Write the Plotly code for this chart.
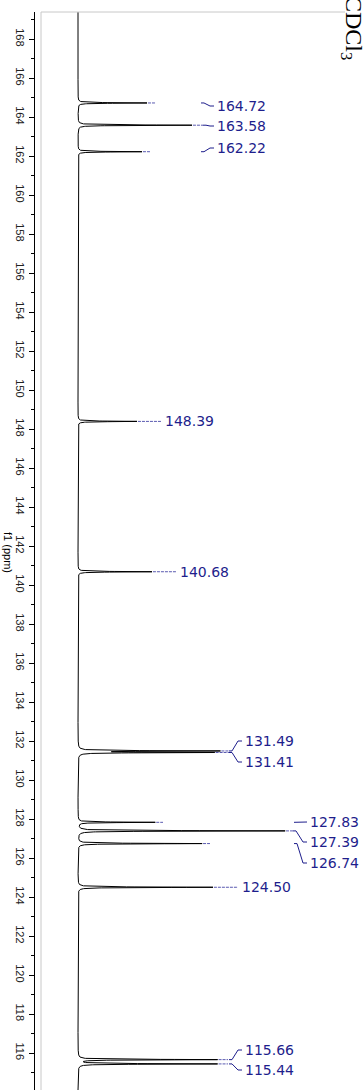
import numpy as np
import plotly.graph_objects as go

# ---- data ----
peak_ppm = [164.72, 163.58, 162.22, 148.39, 140.68, 131.49, 131.41,
            127.83, 127.39, 126.74, 124.50, 115.66, 115.44]
peak_height = [69, 114, 64, 59, 74, 138, 132, 77, 207, 124, 135, 139, 139]
peak_labels = ["164.72", "163.58", "162.22", "148.39", "140.68", "131.49", "131.41",
               "127.83", "127.39", "126.74", "124.50", "115.66", "115.44"]
major_ticks = list(range(116, 170, 2))
tick_text = [str(v) for v in major_ticks]

# ---- layout helpers (positions, not data) ----
W, H = 364, 1090
ML, MT = 35, 12
BASE_PX = 78                     # pixel column of the spectrum baseline
X_RANGE = [ML - BASE_PX, W - BASE_PX]
PX_PER_PPM = 19.5
Y_TOP = 168 + (39 - MT) / PX_PER_PPM
Y_RANGE = [Y_TOP - (H - MT) / PX_PER_PPM, Y_TOP]

def ppm_at(py):
    return 168 - (py - 39) / PX_PER_PPM

def xd(px):
    return px - BASE_PX

label_left_px = [215, 215, 215, 163, 178, 243, 243, 308, 308, 308, 240, 243, 243]
label_y_px = [106, 126, 148, 420, 571, 741, 762, 822, 842, 863, 885, 1050, 1070]
dash_end_px = [156, 203, 150, 161, 176, 229, 229, 163, 293, 210, 238, 228, 228]
kink_px = [201, 203, 201, None, None, 229, 229, 294, 293, 294, None, 229, 229]

LABEL_COLOR = "#1e1e8c"
DASH_COLOR = "#5a5ab0"

# spectrum from the peak list (Lorentzian line shape)
gamma = 0.015
ppm = np.arange(Y_RANGE[0], Y_RANGE[1], 0.0025)
inten = np.zeros_like(ppm)
for p, h in zip(peak_ppm, peak_height):
    inten += h / (1 + ((ppm - p) / gamma) ** 2)

fig = go.Figure()
fig.add_trace(go.Scatter(x=inten, y=ppm, mode="lines",
                         line=dict(color="black", width=1), hoverinfo="skip",
                         showlegend=False))

# connectors and labels
for i, p in enumerate(peak_ppm):
    tip = float(np.interp(p, ppm, inten))
    fig.add_trace(go.Scatter(x=[tip + 1, xd(dash_end_px[i])], y=[p, p], mode="lines",
                             line=dict(color=DASH_COLOR, width=1, dash="3px,1px"),
                             hoverinfo="skip", showlegend=False))
    ly = ppm_at(label_y_px[i])
    lx = label_left_px[i]
    if kink_px[i] is None:
        fig.add_trace(go.Scatter(x=[xd(dash_end_px[i]), xd(lx - 2)], y=[p, p], mode="lines",
                                 line=dict(color=DASH_COLOR, width=1, dash="3px,1px"),
                                 hoverinfo="skip", showlegend=False))
        ly = p
    else:
        fig.add_trace(go.Scatter(x=[xd(kink_px[i]), xd(kink_px[i] + 3), xd(lx - 5), xd(lx - 1)],
                                 y=[p, p, ly, ly], mode="lines",
                                 line=dict(color=LABEL_COLOR, width=1),
                                 hoverinfo="skip", showlegend=False))
    fig.add_annotation(x=xd(lx), y=ly, text=peak_labels[i], showarrow=False,
                       xanchor="left", yanchor="middle",
                       font=dict(family="DejaVu Sans", size=14, color=LABEL_COLOR))

pw = W - ML
ph = H - MT
def paper_x(px):
    return (px - ML) / pw
def paper_y(py):
    return (H - py) / ph

# axis title (rotated clockwise)
fig.add_annotation(xref="paper", yref="paper", x=paper_x(8), y=paper_y(552),
                   text="f1 (ppm)", textangle=90, showarrow=False,
                   xanchor="center", yanchor="middle",
                   font=dict(family="Liberation Sans", size=11, color="black"))
# partial title at top right
fig.add_annotation(xref="paper", yref="paper", x=paper_x(352), y=paper_y(62),
                   text="CDCl<sub>3</sub>", textangle=90, showarrow=False,
                   xanchor="center", yanchor="bottom",
                   font=dict(family="Liberation Serif", size=24, color="black"))

# frame lines
fig.add_shape(type="line", xref="paper", yref="paper",
              x0=paper_x(41), x1=paper_x(41), y0=0, y1=1,
              line=dict(color="#c8c8c8", width=1))
fig.add_shape(type="line", xref="paper", yref="paper",
              x0=paper_x(41), x1=paper_x(345), y0=1, y1=1,
              line=dict(color="#c8c8c8", width=1))

fig.update_layout(
    width=W, height=H,
    margin=dict(l=ML, r=0, t=MT, b=0, autoexpand=False),
    paper_bgcolor="white", plot_bgcolor="white",
    xaxis=dict(visible=False, range=X_RANGE, fixedrange=True),
    yaxis=dict(range=Y_RANGE, tickmode="array", tickvals=major_ticks, ticktext=tick_text,
               tickangle=90, ticks="outside", ticklen=5, tickcolor="black", tickwidth=1,
               showline=True, linecolor="black", linewidth=1, showgrid=False,
               zeroline=False, automargin=False, fixedrange=True,
               tickfont=dict(family="Liberation Sans", size=11, color="#222222"),
               minor=dict(tickmode="linear", tick0=1, dtick=2, ticks="outside",
                          ticklen=3, tickcolor="black", showgrid=False)),
    showlegend=False,
    hovermode=False,
)

fig.write_html("out.html",
               config={"displayModeBar": False, "staticPlot": True},
               post_script="document.body.style.margin='0';"
                           "document.body.style.overflow='hidden';")
